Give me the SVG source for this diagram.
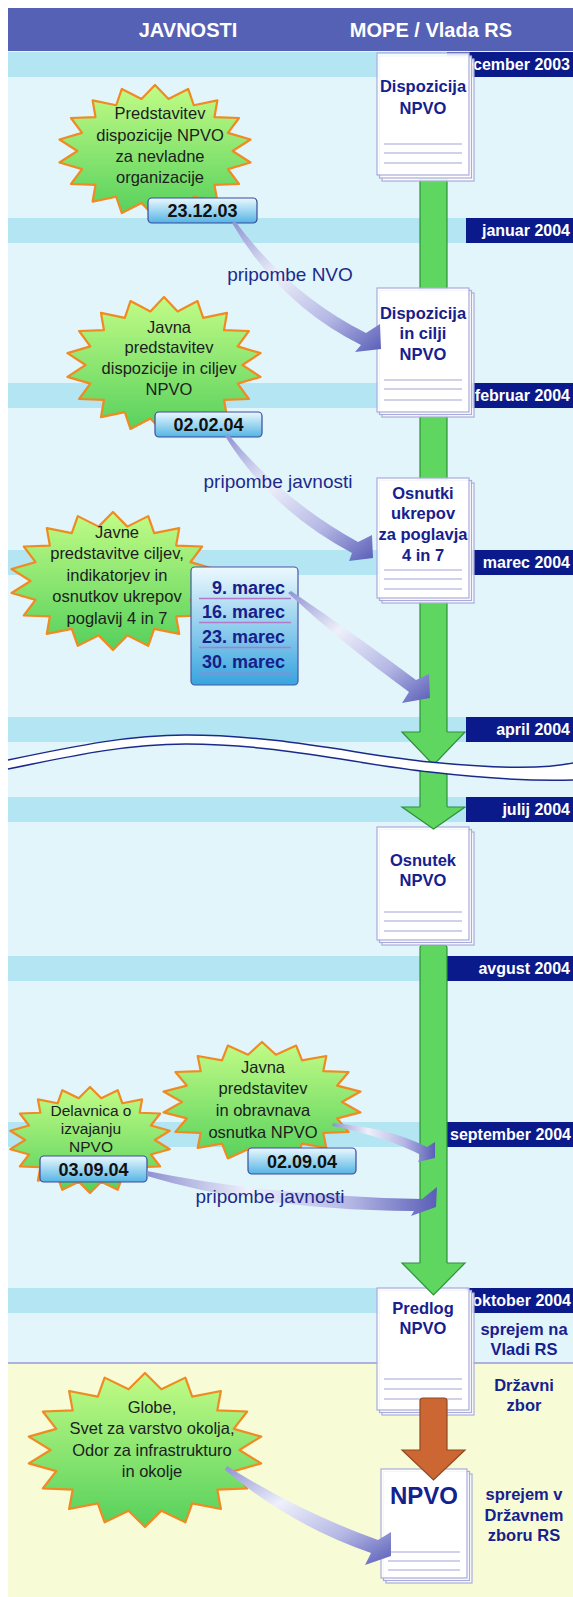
<svg xmlns="http://www.w3.org/2000/svg" xmlns:xlink="http://www.w3.org/1999/xlink" width="573" height="1597" viewBox="0 0 573 1597">
<style>
.band{fill:#b3e6f2}
.mbox{fill:#0b1a8b}
.mon{font-family:"Liberation Sans",Arial,sans-serif;font-weight:bold;font-size:16px;fill:#fff;text-anchor:end}
.hdr{font-family:"Liberation Sans",Arial,sans-serif;font-weight:bold;font-size:20px;fill:#fff;text-anchor:middle}
.st{font-family:"Liberation Sans",Arial,sans-serif;font-size:16.5px;fill:#1d1d1d;text-anchor:middle}
.st2{font-family:"Liberation Sans",Arial,sans-serif;font-size:15.5px;fill:#1d1d1d;text-anchor:middle}
.doc{font-family:"Liberation Sans",Arial,sans-serif;font-weight:bold;font-size:16.5px;fill:#16208e;text-anchor:middle}
.date{font-family:"Liberation Sans",Arial,sans-serif;font-weight:bold;font-size:18px;fill:#111;text-anchor:middle}
.dbox{fill:url(#dateGrad);stroke:#3b4b9b;stroke-width:1.2}
.pri{font-family:"Liberation Sans",Arial,sans-serif;font-size:19px;fill:#1c2a8c;text-anchor:middle}
.page{fill:#fff;fill-opacity:0.88;stroke:#a9abdb;stroke-width:1.2}
.pline{stroke:#a4a6d6;stroke-width:1.2}
.mar{font-family:"Liberation Sans",Arial,sans-serif;font-weight:bold;font-size:18px;fill:#17208a;text-anchor:end}
.sep{stroke:#b27ac9;stroke-width:1.5}
.green{fill:#5ed65f;stroke:#2f8f3c;stroke-width:1.2}
.swDR{fill:url(#swDR)}
.swR{fill:url(#swR)}
</style>
<defs>
<linearGradient id="starGrad" x1="0" y1="0" x2="0" y2="1">
<stop offset="0" stop-color="#c2fc86"/>
<stop offset="1" stop-color="#55d05c"/>
</linearGradient>
<linearGradient id="dateGrad" x1="0" y1="0" x2="0" y2="1">
<stop offset="0" stop-color="#eaf9fe"/>
<stop offset="1" stop-color="#55b4e4"/>
</linearGradient>
<linearGradient id="marGrad" x1="0" y1="0" x2="0" y2="1">
<stop offset="0" stop-color="#edf9fe"/>
<stop offset="1" stop-color="#38a4de"/>
</linearGradient>
<linearGradient id="swDR" x1="0" y1="0" x2="1" y2="1">
<stop offset="0" stop-color="#8e92d2"/>
<stop offset="0.35" stop-color="#eef0fa"/>
<stop offset="0.7" stop-color="#b4b7e4"/>
<stop offset="1" stop-color="#5a5eb8"/>
</linearGradient>
<linearGradient id="swR" x1="0" y1="0" x2="1" y2="0">
<stop offset="0" stop-color="#8e92d2"/>
<stop offset="0.35" stop-color="#eef0fa"/>
<stop offset="0.7" stop-color="#b4b7e4"/>
<stop offset="1" stop-color="#5a5eb8"/>
</linearGradient>
<polygon id="star" points="0,-100 13.9,-78.8 34.2,-94 40,-69.3 64.3,-76.6 61.3,-51.4 86.6,-50 75.2,-27.4 98.5,-17.4 80,0 98.5,17.4 75.2,27.4 86.6,50 61.3,51.4 64.3,76.6 40,69.3 34.2,94 13.9,78.8 0,100 -13.9,78.8 -34.2,94 -40,69.3 -64.3,76.6 -61.3,51.4 -86.6,50 -75.2,27.4 -98.5,17.4 -80,0 -98.5,-17.4 -75.2,-27.4 -86.6,-50 -61.3,-51.4 -64.3,-76.6 -40,-69.3 -34.2,-94 -13.9,-78.8" fill="url(#starGrad)" stroke="#f08a22" stroke-width="2.2" stroke-linejoin="round" vector-effect="non-scaling-stroke"/>
</defs>

<!-- background -->
<rect x="0" y="0" width="573" height="1597" fill="#fff"/>
<rect x="8" y="51" width="565" height="1312" fill="#e2f5fa"/>
<rect x="8" y="1363" width="565" height="234" fill="#f7fcd6"/>
<line x1="8" y1="1363" x2="573" y2="1363" stroke="#9a9ad8" stroke-width="1.5"/>
<g id="bands">
<rect class="band" x="8" y="52" width="565" height="25"/>
<rect class="band" x="8" y="218" width="565" height="25"/>
<rect class="band" x="8" y="383" width="565" height="25"/>
<rect class="band" x="8" y="550" width="565" height="25"/>
<rect class="band" x="8" y="717" width="565" height="25"/>
<rect class="band" x="8" y="797" width="565" height="25"/>
<rect class="band" x="8" y="956" width="565" height="25"/>
<rect class="band" x="8" y="1122" width="565" height="25"/>
<rect class="band" x="8" y="1288" width="565" height="25"/>
</g>
<g id="header">
<rect x="8" y="8" width="565" height="43" fill="#5561b5"/>
<text class="hdr" x="188" y="37">JAVNOSTI</text>
<text class="hdr" x="431" y="37">MOPE / Vlada RS</text>
</g>
<g id="months">
<rect class="mbox" x="447" y="52" width="126" height="25"/><text class="mon" x="570" y="70">december 2003</text>
<rect class="mbox" x="466" y="218" width="107" height="25"/><text class="mon" x="570" y="236">januar 2004</text>
<rect class="mbox" x="466" y="383" width="107" height="25"/><text class="mon" x="570" y="401">februar 2004</text>
<rect class="mbox" x="466" y="550" width="107" height="25"/><text class="mon" x="570" y="568">marec 2004</text>
<rect class="mbox" x="466" y="717" width="107" height="25"/><text class="mon" x="570" y="735">april 2004</text>
<rect class="mbox" x="466" y="797" width="107" height="25"/><text class="mon" x="570" y="815">julij 2004</text>
<rect class="mbox" x="447" y="956" width="126" height="25"/><text class="mon" x="570" y="974">avgust 2004</text>
<rect class="mbox" x="447" y="1122" width="126" height="25"/><text class="mon" x="571" y="1140">september 2004</text>
<rect class="mbox" x="466" y="1288" width="107" height="25"/><text class="mon" x="571" y="1306">oktober 2004</text>
</g>

<!-- public events -->
<g id="event1">
<use href="#star" transform="translate(155,151) scale(0.97,0.66)"/>
<text class="st" x="160" y="119">Predstavitev</text>
<text class="st" x="160" y="141">dispozicije NPVO</text>
<text class="st" x="160" y="162">za nevladne</text>
<text class="st" x="160" y="183">organizacije</text>
<rect class="dbox" x="148" y="198" width="109" height="25" rx="4"/>
<text class="date" x="202.5" y="217">23.12.03</text>
</g>
<g id="event2">
<use href="#star" transform="translate(164,365) scale(0.98,0.68)"/>
<text class="st" x="169" y="333">Javna</text>
<text class="st" x="169" y="353">predstavitev</text>
<text class="st" x="169" y="374">dispozicije in ciljev</text>
<text class="st" x="169" y="395">NPVO</text>
<rect class="dbox" x="155" y="412" width="107" height="25" rx="4"/>
<text class="date" x="208.5" y="431">02.02.04</text>
</g>
<g id="event3">
<use href="#star" transform="translate(113,581) scale(1.03,0.69)"/>
<text class="st" x="117" y="538">Javne</text>
<text class="st" x="117" y="559">predstavitve ciljev,</text>
<text class="st" x="117" y="581">indikatorjev in</text>
<text class="st" x="117" y="602">osnutkov ukrepov</text>
<text class="st" x="117" y="624">poglavij 4 in 7</text>
</g>
<g id="marec-dates">
<rect x="191" y="567" width="107" height="118" rx="4" fill="url(#marGrad)" stroke="#4a55a5" stroke-width="1.2"/>
<text class="mar" x="285" y="594">9. marec</text>
<line class="sep" x1="199" y1="598.5" x2="291" y2="598.5"/>
<text class="mar" x="285" y="618">16. marec</text>
<line class="sep" x1="199" y1="622.5" x2="291" y2="622.5"/>
<text class="mar" x="285" y="643">23. marec</text>
<line class="sep" x1="199" y1="647.5" x2="291" y2="647.5"/>
<text class="mar" x="285" y="668">30. marec</text>
<line class="sep" x1="199" y1="673.5" x2="291" y2="673.5"/>
</g>
<g id="event4">
<use href="#star" transform="translate(90,1140) scale(0.81,0.53)"/>
<text class="st2" x="91" y="1116">Delavnica o</text>
<text class="st2" x="91" y="1134">izvajanju</text>
<text class="st2" x="91" y="1152">NPVO</text>
</g>
<g id="event5">
<use href="#star" transform="translate(262,1102) scale(1.0,0.6)"/>
<text class="st" x="263" y="1073">Javna</text>
<text class="st" x="263" y="1094">predstavitev</text>
<text class="st" x="263" y="1116">in obravnava</text>
<text class="st" x="263" y="1138">osnutka NPVO</text>
<rect class="dbox" x="248" y="1148" width="108" height="26" rx="4"/>
<text class="date" x="302" y="1167.5">02.09.04</text>
</g>
<g id="event4-date">
<rect class="dbox" x="40" y="1156" width="107" height="26" rx="4"/>
<text class="date" x="93.5" y="1175.5">03.09.04</text>
</g>
<g id="event6">
<use href="#star" transform="translate(145,1450) scale(1.18,0.77)"/>
<text class="st" x="152" y="1413">Globe,</text>
<text class="st" x="152" y="1434">Svet za varstvo okolja,</text>
<text class="st" x="152" y="1456">Odor za infrastrukturo</text>
<text class="st" x="152" y="1477">in okolje</text>
</g>

<!-- timeline bar (passes behind the documents) -->
<g id="connectors-bar">
<rect class="green" x="420" y="68" width="27" height="666" rx="3"/>
<rect class="green" x="420" y="770" width="27" height="39"/>
<rect class="green" x="420" y="945" width="27" height="320" rx="3"/>
</g>

<!-- documents -->
<g id="doc1">
<rect class="page" x="382" y="59" width="92" height="122"/>
<rect class="page" x="379.5" y="56" width="92" height="122"/>
<rect class="page" x="377" y="53" width="92" height="122"/>
<line class="pline" x1="384" y1="144" x2="462" y2="144"/>
<line class="pline" x1="384" y1="153" x2="462" y2="153"/>
<line class="pline" x1="384" y1="163" x2="462" y2="163"/>
<text class="doc" x="423" y="92">Dispozicija</text>
<text class="doc" x="423" y="114">NPVO</text>
</g>
<g id="doc2">
<rect class="page" x="382" y="293" width="92" height="124"/>
<rect class="page" x="379.5" y="290.5" width="92" height="124"/>
<rect class="page" x="377" y="288" width="92" height="124"/>
<line class="pline" x1="384" y1="380" x2="462" y2="380"/>
<line class="pline" x1="384" y1="389" x2="462" y2="389"/>
<line class="pline" x1="384" y1="400" x2="462" y2="400"/>
<text class="doc" x="423" y="319">Dispozicija</text>
<text class="doc" x="423" y="339">in cilji</text>
<text class="doc" x="423" y="360">NPVO</text>
</g>
<g id="doc3">
<rect class="page" x="382" y="483" width="92" height="120"/>
<rect class="page" x="379.5" y="480.5" width="92" height="120"/>
<rect class="page" x="377" y="478" width="92" height="120"/>
<line class="pline" x1="384" y1="570" x2="462" y2="570"/>
<line class="pline" x1="384" y1="579" x2="462" y2="579"/>
<line class="pline" x1="384" y1="589" x2="462" y2="589"/>
<text class="doc" x="423" y="499">Osnutki</text>
<text class="doc" x="423" y="519">ukrepov</text>
<text class="doc" x="423" y="540">za poglavja</text>
<text class="doc" x="423" y="561">4 in 7</text>
</g>
<g id="doc4">
<rect class="page" x="382" y="832" width="92" height="113"/>
<rect class="page" x="379.5" y="829.5" width="92" height="113"/>
<rect class="page" x="377" y="827" width="92" height="113"/>
<line class="pline" x1="384" y1="912" x2="462" y2="912"/>
<line class="pline" x1="384" y1="921" x2="462" y2="921"/>
<line class="pline" x1="384" y1="931" x2="462" y2="931"/>
<text class="doc" x="423" y="866">Osnutek</text>
<text class="doc" x="423" y="886">NPVO</text>
</g>
<g id="doc5">
<rect class="page" x="382" y="1293" width="92" height="122"/>
<rect class="page" x="379.5" y="1290.5" width="92" height="122"/>
<rect class="page" x="377" y="1288" width="92" height="122"/>
<line class="pline" x1="384" y1="1379" x2="462" y2="1379"/>
<line class="pline" x1="384" y1="1389" x2="462" y2="1389"/>
<line class="pline" x1="384" y1="1399" x2="462" y2="1399"/>
<text class="doc" x="423" y="1314">Predlog</text>
<text class="doc" x="423" y="1334">NPVO</text>
</g>
<g id="doc6">
<rect class="page" x="386" y="1474" width="86" height="109"/>
<rect class="page" x="383.5" y="1471.5" width="86" height="109"/>
<rect class="page" x="381" y="1469" width="86" height="109"/>
<line class="pline" x1="388" y1="1552" x2="460" y2="1552"/>
<line class="pline" x1="388" y1="1561" x2="460" y2="1561"/>
<line class="pline" x1="388" y1="1570" x2="460" y2="1570"/>
<text class="doc" x="424" y="1504" style="font-size:24px">NPVO</text>
</g>

<!-- connectors -->
<g id="connectors">
<path class="green" d="M420,732 L402,732 L433.5,765 L465,732 L447,732"/>
<path class="green" d="M420,807 L402,807 L433.5,829 L465,807 L447,807"/>
<path class="green" d="M420,1263 L402,1263 L433.5,1295 L465,1263 L447,1263"/>
<path d="M420,1401 Q420,1398 423,1398 L444,1398 Q447,1398 447,1401 L447,1450 L465,1450 L433.5,1480 L402,1450 L420,1450 Z" fill="#cc6633" stroke="#8e4a22" stroke-width="1.2"/>
<path class="swDR" d="M235,221 Q290,295 366,333 L380,324 L381,349 L355,352 L361,345 Q280,305 232,223 Z"/>
<path class="swDR" d="M228,434 Q282,500 358,542 L372,535 L373,558 L349,561 L352,553 Q271,510 225,436 Z"/>
<path class="swDR" d="M291,591 Q356,635 416,680 L429,674 L430,698 L402,703 L409,692 Q344,645 288,593 Z"/>
<path class="swR" d="M333,1123 Q390,1128 427,1147 L435,1142 L435,1158 L418,1162 L421,1155 Q386,1137 332,1126 Z"/>
<path class="swR" d="M147,1171 Q270,1196 422,1199 L437,1187 L436,1207 L411,1216 L414,1211 Q260,1210 147,1176 Z"/>
<path class="swDR" d="M227,1466 Q300,1512 378,1540 L391,1532 L391,1556 L365,1565 L371,1553 Q290,1525 225,1470 Z"/>
</g>

<g id="connector-labels">
<text class="pri" x="290" y="281">pripombe NVO</text>
<text class="pri" x="278" y="488">pripombe javnosti</text>
<text class="pri" x="270" y="1203">pripombe javnosti</text>
</g>

<!-- time break -->
<g id="break">
<path d="M8,760 C80,745 130,735 186,735 C280,735 360,755 430,762 C490,768 540,770 573,763 L573,780 C540,781 490,779 430,772 C360,765 280,744 186,744 C130,744 80,754 8,769 Z" fill="#fff"/>
<path d="M8,760 C80,745 130,735 186,735 C280,735 360,755 430,762 C490,768 540,770 573,763" fill="none" stroke="#1a2a8c" stroke-width="1.5"/>
<path d="M8,769 C80,754 130,744 186,744 C280,744 360,765 430,772 C490,779 540,781 573,780" fill="none" stroke="#1a2a8c" stroke-width="1.5"/>
</g>

<g id="labels-right">
<text class="doc" x="524" y="1335">sprejem na</text>
<text class="doc" x="524" y="1355">Vladi RS</text>
<text class="doc" x="524" y="1391">Državni</text>
<text class="doc" x="524" y="1411">zbor</text>
<text class="doc" x="524" y="1500">sprejem v</text>
<text class="doc" x="524" y="1521">Državnem</text>
<text class="doc" x="524" y="1541">zboru RS</text>
</g>
</svg>
